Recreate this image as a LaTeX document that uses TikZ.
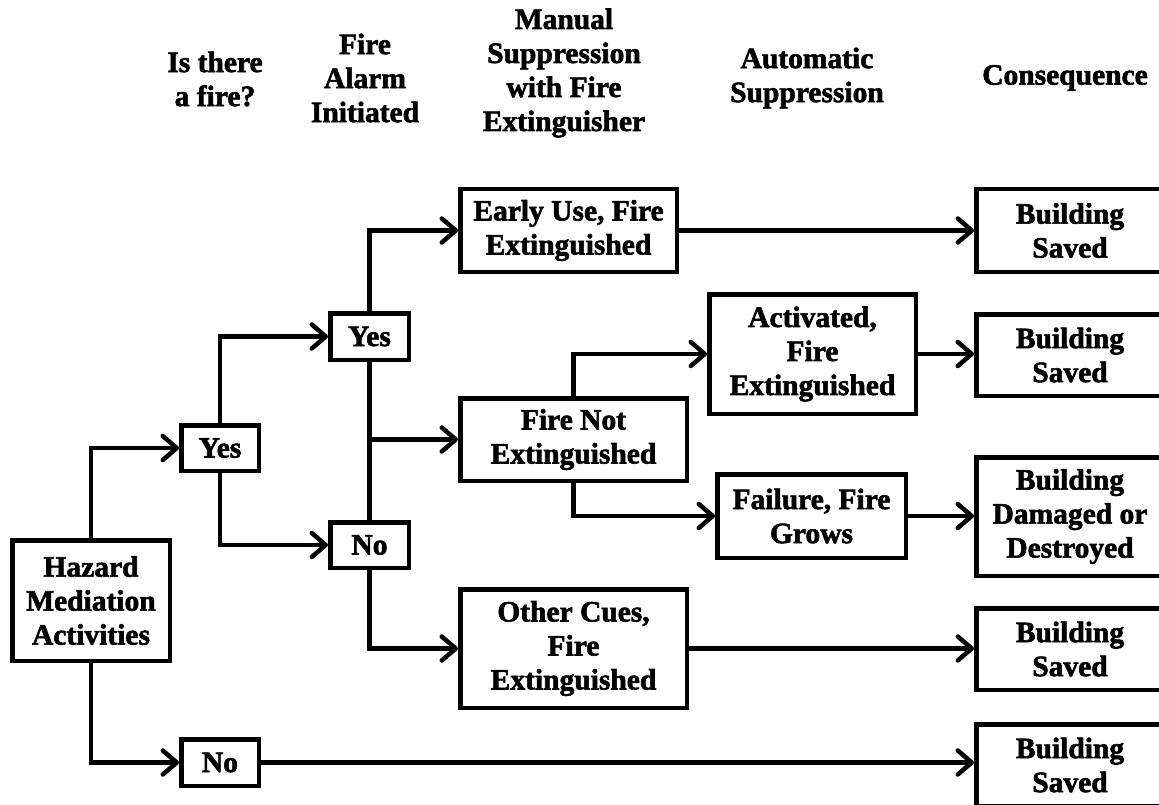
\documentclass[tikz,border=0pt]{standalone}
\usepackage{fontspec}
\setmainfont{Liberation Serif}[BoldFeatures={FakeBold=2}]
\usetikzlibrary{arrows.meta}
\begin{document}
\begin{tikzpicture}[x=1pt,y=-1pt,
  txt/.style={align=center,inner sep=0pt,font=\bfseries\fontsize{29.5}{34}\selectfont},
  box/.style={txt,draw,line width=4.5pt},
  head/.style={txt},
  link/.style={line width=4.5pt,-{Straight Barb[length=14pt,width=24pt,line width=4.5pt,round]}},
  trunk/.style={line width=4.5pt}]
\clip (0,0) rectangle (1159,805);
\fill[white] (0,0) rectangle (1159,805);

% column headings
\node[head] (hfire) at (215,79) {Is there\\a fire?};
\node[head] (halarm) at (365,78) {Fire\\Alarm\\Initiated};
\node[head] (hmanual) at (564,73) {Manual\\Suppression\\with Fire\\Extinguisher};
\node[head] (hauto) at (807,78) {Automatic\\Suppression};
\node[head] (hcons) at (1065,78) {Consequence};

% event boxes
\node[box,minimum width=157.5pt,minimum height=120.5pt] (haz) at (91,600.5) {Hazard\\Mediation\\Activities};
\node[box,minimum width=77.5pt,minimum height=45.5pt] (yes1) at (220,448) {Yes};
\node[box,minimum width=77.5pt,minimum height=46.5pt] (no1) at (220,762.5) {No};
\node[box,minimum width=78.5pt,minimum height=46.5pt] (yes2) at (369.5,336.5) {Yes};
\node[box,minimum width=78.5pt,minimum height=45.5pt] (no2) at (369.5,545) {No};
\node[box,minimum width=216.5pt,minimum height=82.5pt] (early) at (568.5,230.5) {Early Use, Fire\\Extinguished};
\node[box,minimum width=226.5pt,minimum height=82.5pt] (firenot) at (573.5,439.5) {Fire Not\\Extinguished};
\node[box,minimum width=226.5pt,minimum height=118.5pt] (other) at (573.5,648.5) {Other Cues,\\Fire\\Extinguished};
\node[box,minimum width=206.5pt,minimum height=119.5pt] (act) at (812.5,354) {Activated,\\Fire\\Extinguished};
\node[box,minimum width=188.5pt,minimum height=83.5pt] (fail) at (811.5,516) {Failure, Fire\\Grows};

% consequence boxes (run past the right edge)
\node[box,minimum width=187.5pt,minimum height=82.5pt] (bs1) at (1070,230.5) {Building\\Saved};
\node[box,minimum width=187.5pt,minimum height=81.5pt] (bs2) at (1070,355) {Building\\Saved};
\node[box,minimum width=187.5pt,minimum height=118.5pt] (bdd) at (1070,516.5) {Building\\Damaged or\\Destroyed};
\node[box,minimum width=187.5pt,minimum height=81.5pt] (bs4) at (1070,649) {Building\\Saved};
\node[box,minimum width=187.5pt,minimum height=81.5pt] (bs5) at (1070,765) {Building\\Saved};

% branches
\draw[link] (haz.north) |- (yes1.west);
\draw[link] (haz.south) |- (no1.west);
\draw[link] (yes1.north) |- (yes2.west);
\draw[link] (yes1.south) |- (no2.west);
\draw[link] (yes2.north) |- (early.west);
\draw[trunk] (yes2.south) -- (no2.north);
\draw[link] (yes2.south) |- (firenot.west);
\draw[link] (no2.south) |- (other.west);
\draw[link] (firenot.north) |- (act.west);
\draw[link] (firenot.south) |- (fail.west);

% outcomes
\draw[link] (early.east) -- (early.east -| bs1.west);
\draw[link] (act.east) -- (act.east -| bs2.west);
\draw[link] (fail.east) -- (fail.east -| bdd.west);
\draw[link] (other.east) -- (other.east -| bs4.west);
\draw[link] (no1.east) -- (no1.east -| bs5.west);
\end{tikzpicture}
\end{document}
